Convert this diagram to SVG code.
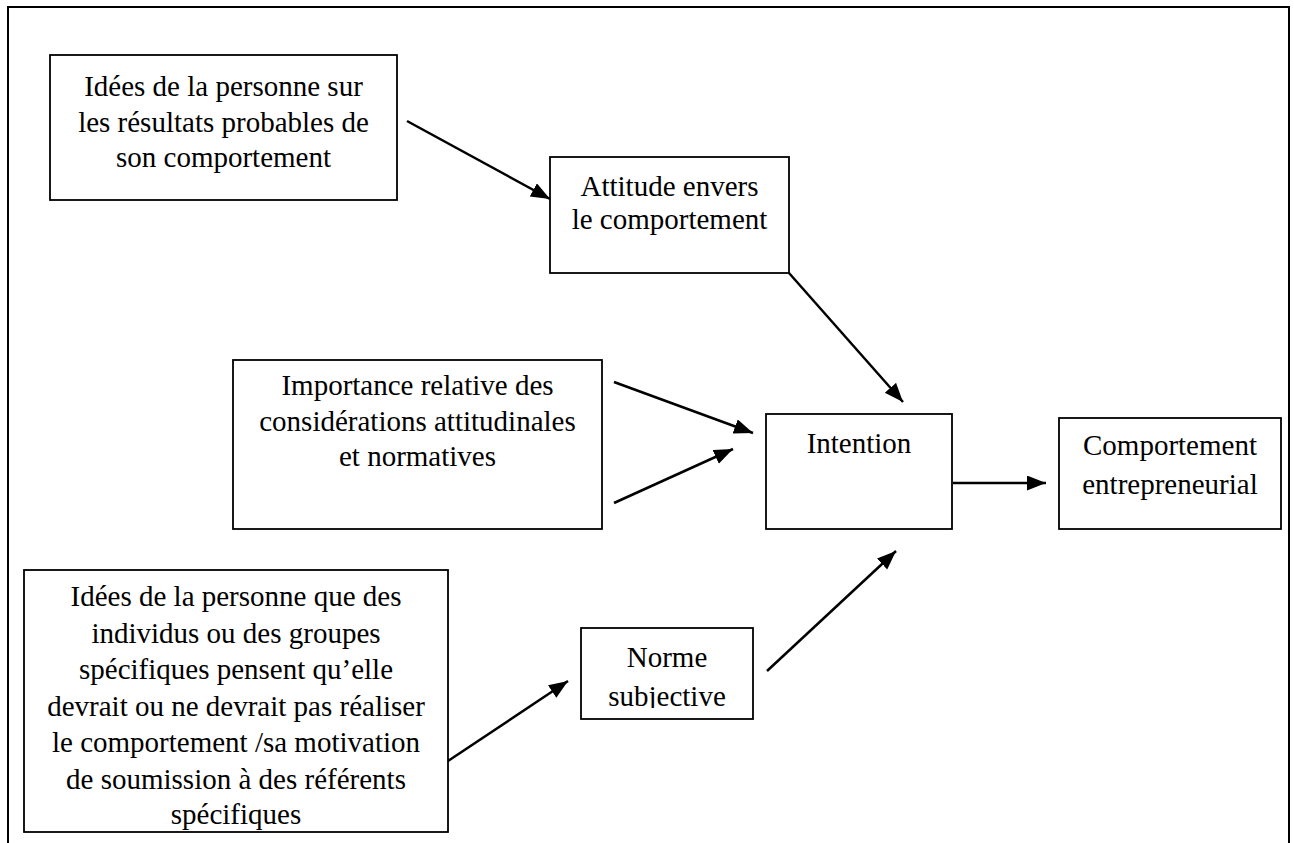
<svg xmlns="http://www.w3.org/2000/svg" width="1294" height="843" viewBox="0 0 1294 843">
<style>
.box{fill:#fff;stroke:#000;stroke-width:1.8}
.t{font-family:'Liberation Serif','DejaVu Serif','Noto Serif','Times New Roman',Times,serif;font-size:29px;fill:#000;text-anchor:middle}
.edge{stroke:#000;stroke-width:2.5;fill:none;marker-end:url(#ah)}
</style>
<defs>
<marker id="ah" markerUnits="userSpaceOnUse" markerWidth="20" markerHeight="16" refX="19" refY="7.5" orient="auto">
<path d="M0,0 L19,7.5 L0,15 z" fill="#000"/>
</marker>
<clipPath id="normeclip"><rect x="581" y="628" width="172" height="80"/></clipPath>
</defs>
<rect width="1294" height="843" fill="#fff"/>
<path id="frame" d="M8,843 V7 H1289 V843" fill="none" stroke="#000" stroke-width="2"/>

<g id="n-idees-resultats">
<rect class="box" x="50" y="55" width="347" height="145"/>
<text class="t" x="223.5" y="96">Idées de la personne sur</text>
<text class="t" x="223.5" y="132">les résultats probables de</text>
<text class="t" x="223.5" y="167">son comportement</text>
</g>

<g id="n-attitude">
<rect class="box" x="550" y="157" width="239" height="116"/>
<text class="t" x="669.5" y="196">Attitude envers</text>
<text class="t" x="669.5" y="229">le comportement</text>
</g>

<g id="n-importance">
<rect class="box" x="233" y="360" width="369" height="169"/>
<text class="t" x="417.5" y="395">Importance relative des</text>
<text class="t" x="417.5" y="431">considérations attitudinales</text>
<text class="t" x="417.5" y="466">et normatives</text>
</g>

<g id="n-intention">
<rect class="box" x="766" y="414" width="186" height="115"/>
<text class="t" x="859" y="453">Intention</text>
</g>

<g id="n-comportement">
<rect class="box" x="1059" y="418" width="222" height="111"/>
<text class="t" x="1170" y="455">Comportement</text>
<text class="t" x="1170" y="494">entrepreneurial</text>
</g>

<g id="n-idees-groupes">
<rect class="box" x="24" y="570" width="424" height="262"/>
<text class="t" x="236" y="606">Idées de la personne que des</text>
<text class="t" x="236" y="642.5">individus ou des groupes</text>
<text class="t" x="236" y="679">spécifiques pensent qu’elle</text>
<text class="t" x="236" y="715.5">devrait ou ne devrait pas réaliser</text>
<text class="t" x="236" y="752">le comportement /sa motivation</text>
<text class="t" x="236" y="788.5">de soumission à des référents</text>
<text class="t" x="236" y="824">spécifiques</text>
</g>

<g id="n-norme">
<rect class="box" x="581" y="628" width="172" height="91"/>
<g clip-path="url(#normeclip)">
<text class="t" x="667" y="667">Norme</text>
<text class="t" x="667" y="706">subjective</text>
</g>
</g>

<g id="connectors">
<line class="edge" x1="407" y1="121" x2="550" y2="199"/>
<line class="edge" x1="789" y1="273" x2="903" y2="402"/>
<line class="edge" x1="614" y1="382" x2="753" y2="433"/>
<line class="edge" x1="614" y1="503" x2="733" y2="449"/>
<line class="edge" x1="953" y1="483" x2="1046" y2="483"/>
<line class="edge" x1="448" y1="761" x2="568" y2="681"/>
<line class="edge" x1="767" y1="671" x2="896" y2="551"/>
</g>
</svg>
